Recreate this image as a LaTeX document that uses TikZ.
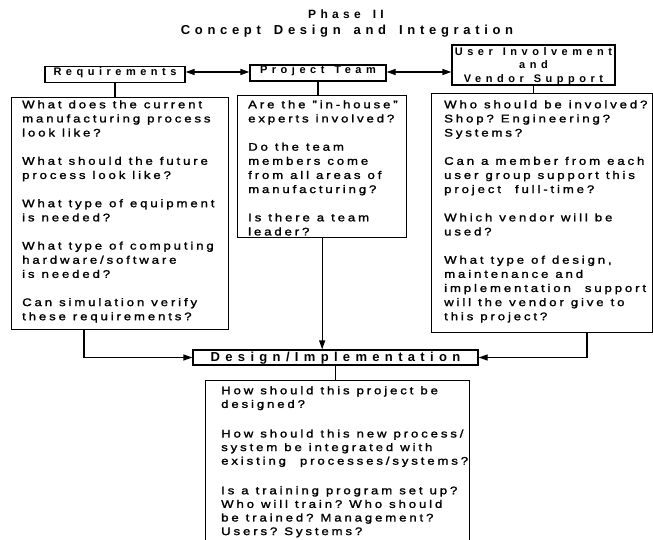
\documentclass[tikz,border=0pt]{standalone}
\usepackage{fontspec}
\setmainfont{Liberation Sans}[FakeStretch=1.2, LetterSpace=26, FakeBold=1.6]
\newfontfamily\headfont{Liberation Sans}[LetterSpace=41]
\newfontfamily\titlefont{Liberation Sans}[LetterSpace=36]
\usetikzlibrary{arrows.meta}

% explicit gap between words of the tracked faces
\newlength\wordgap
\newcommand\w{\hskip\wordgap\relax}
\newcommand\wsp[1]{\spaceskip=#1\relax\xspaceskip=#1\relax}

\tikzset{
  frame/.style={line width=1.3pt},
  hdrbox/.style={draw, frame, inner xsep=0pt,
    font=\headfont\bfseries\fontsize{11}{13.5}\selectfont\setlength\wordgap{10pt}},
  hdrone/.style={hdrbox, inner ysep=1pt, text height=8pt, text depth=6pt},
  qbox/.style={draw, frame, inner sep=0pt, anchor=north west},
  qtext/.style={inner sep=0pt, anchor=north west, text width=250pt, align=left,
    font=\fontsize{11}{14.13}\selectfont\setlength\wordgap{7pt}},
  link/.style={frame},
  tip/.tip={Triangle[length=9pt,width=6pt]},
  arr/.style={frame, -tip},
  arrboth/.style={frame, tip-tip},
}

\begin{document}
\begin{tikzpicture}[x=1pt,y=-1pt]
\useasboundingbox (0,0) rectangle (653,540);
\clip (0,0) rectangle (653,540);

% title
\node[anchor=base, font=\titlefont\bfseries\fontsize{12}{14}\selectfont\wsp{12pt}] (phase) at (346,19) {Phase II};
\node[anchor=base, font=\titlefont\bfseries\fontsize{13}{15}\selectfont\wsp{13pt}] (concept) at (347,35) {Concept Design and Integration};

% top row of headings
\node[hdrone, minimum width=140pt, minimum height=16pt] (req) at (115,74.5) {Requirements};
\node[hdrone, minimum width=136pt, minimum height=16pt] (team) at (318,73) {Project\w Team};
\node[hdrbox, inner ysep=0pt, text depth=0pt, minimum width=163pt, minimum height=40pt, align=center]
  (user) at (533.5,65) {User\w Involvement\\and\\Vendor\w Support};

% question boxes
\node[qbox, minimum width=217pt, minimum height=232pt] (reqq) at (11,97) {};
\node[qbox, minimum width=169pt, minimum height=142pt] (teamq) at (237,95) {};
\node[qbox, minimum width=221pt, minimum height=239pt] (userq) at (431,93) {};

\node[qtext] (reqt) at (22,100.1) {What\w does\w the\w current\\
manufacturing\w process\\
look\w like?\\[14.13pt]
What\w should\w the\w future\\
process\w look\w like?\\[14.13pt]
What\w type\w of\w equipment\\
is\w needed?\\[14.13pt]
What\w type\w of\w computing\\
hardware/software\\
is\w needed?\\[14.13pt]
Can\w simulation\w verify\\
these\w requirements?};

\node[qtext] (teamt) at (248,100.1) {Are\w the\w "in-house"\\
experts\w involved?\\[14.13pt]
Do\w the\w team\\
members\w come\\
from\w all\w areas\w of\\
manufacturing?\\[14.13pt]
Is\w there\w a\w team\\
leader?};

\node[qtext] (usert) at (444,100.1) {Who\w should\w be\w involved?\\
Shop?\w Engineering?\\
Systems?\\[14.13pt]
Can\w a\w member\w from\w each\\
user\w group\w support\w this\\
project\w\w full-time?\\[14.13pt]
Which\w vendor\w will\w be\\
used?\\[14.13pt]
What\w type\w of\w design,\\
maintenance\w and\\
implementation\w\w support\\
will\w the\w vendor\w give\w to\\
this\w project?};

% design / implementation
\node[hdrbox, font=\headfont\bfseries\fontsize{13}{15}\selectfont, inner ysep=2.25pt,
  text height=9.5pt, text depth=1pt, minimum width=285pt, minimum height=15pt]
  (design) at (335.5,357.5) {Design/Implementation};
\node[qbox, minimum width=264pt, minimum height=170pt] (designq) at (205,380) {};
\node[qtext, font=\fontsize{11}{13.6}\selectfont\setlength\wordgap{7pt}] (designt) at (221,386.1) {How\w should\w this\w project\w be\\
designed?\\[16pt]
How\w should\w this\w new\w process/\\
system\w be\w integrated\w with\\
existing\w\w processes/systems?\\[16pt]
Is\w a\w training\w program\w set\w up?\\
Who\w will\w train?\w Who\w should\\
be\w trained?\w Management?\\
Users?\w Systems?};

% connectors
\coordinate (hrow) at (0,72);
\draw[arrboth] (req.east |- hrow) -- (team.west |- hrow);
\draw[arrboth] (team.east |- hrow) -- (user.west |- hrow);

\draw[link] (req.south) -- (req.south |- reqq.north);
\draw[link] (team.south) -- (team.south |- teamq.north);
\draw[link] (user.south) -- (user.south |- userq.north);
\draw[link] (design.south) -- (design.south |- designq.north);

\draw[arr] ([xshift=73pt]reqq.south west) |- (design.west);
\draw[arr] (teamq.south) -- (teamq.south |- design.north);
\draw[arr] ([xshift=156pt]userq.south west) |- (design.east);
\end{tikzpicture}
\end{document}
